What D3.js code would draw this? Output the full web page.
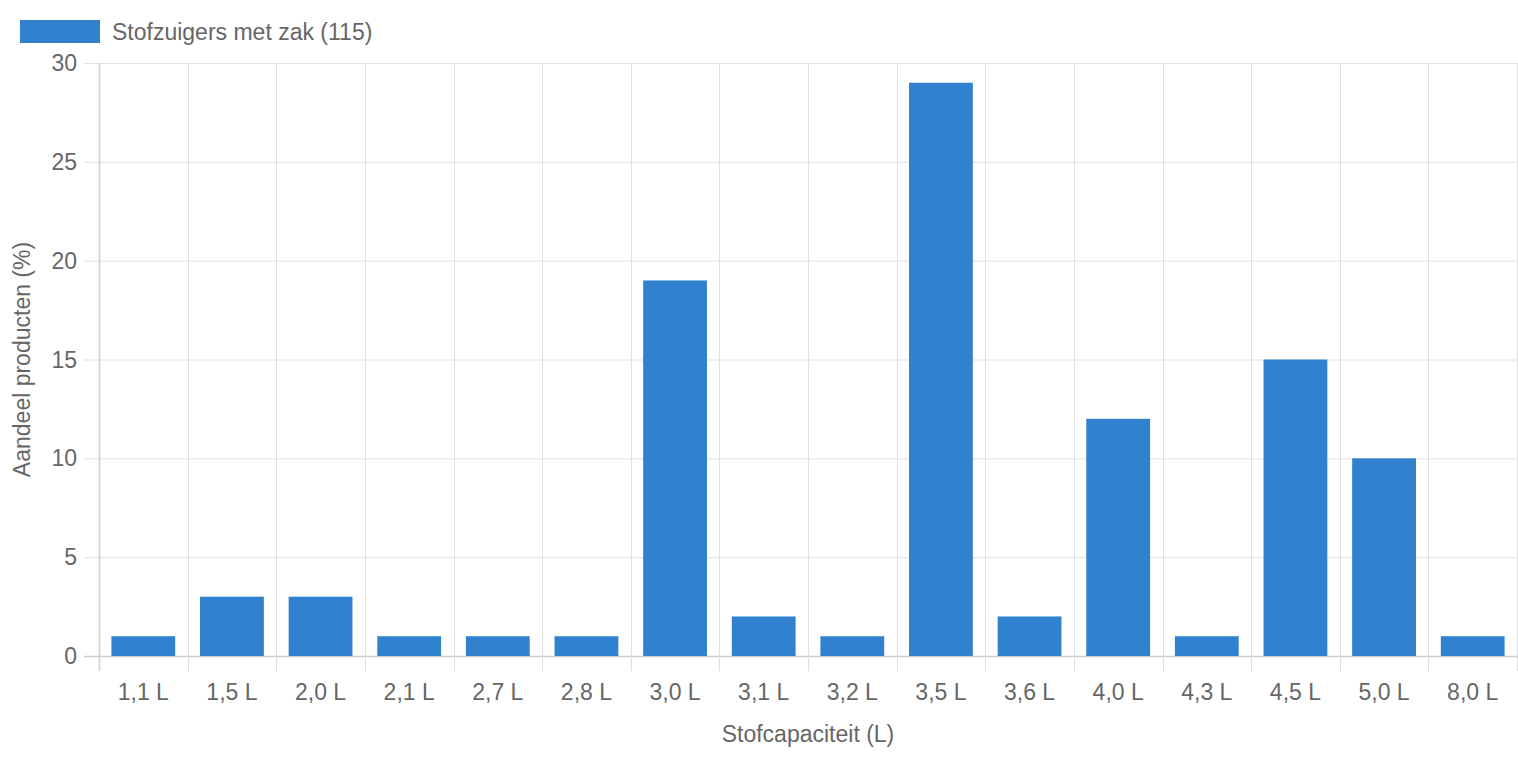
<!DOCTYPE html>
<html>
<head>
<meta charset="utf-8">
<script src="https://cdn.jsdelivr.net/npm/d3@7"></script>
<style>
  body { margin: 0; background: #fff; }
  text { font-family: "Helvetica Neue", Helvetica, Arial, "Liberation Sans", sans-serif; fill: #666; }
</style>
</head>
<body>
<div id="chart"></div>
<script>
var categories = ["1,1 L", "1,5 L", "2,0 L", "2,1 L", "2,7 L", "2,8 L", "3,0 L", "3,1 L", "3,2 L", "3,5 L", "3,6 L", "4,0 L", "4,3 L", "4,5 L", "5,0 L", "8,0 L"];
var values = [1, 3, 3, 1, 1, 1, 19, 2, 1, 29, 2, 12, 1, 15, 10, 1];
var yTicks = [0, 5, 10, 15, 20, 25, 30];
var seriesName = "Stofzuigers met zak (115)";

var W = 1518, H = 758;
var margin = { top: 63, right: 1, bottom: 102, left: 99 },
    width = W - margin.left - margin.right,
    height = H - margin.top - margin.bottom;
var barColor = "#3182ce";
var gridColor = "#e0e0e0";
var fs = "23px";

var svg = d3.select("#chart").append("svg")
    .attr("width", W).attr("height", H);

// legend
svg.append("rect").attr("x", 20).attr("y", 20).attr("width", 80).attr("height", 23)
    .attr("fill", barColor);
svg.append("text").attr("x", 112).attr("y", 40).attr("font-size", fs)
    .text(seriesName);

var g = svg.append("g").attr("transform", "translate(" + margin.left + "," + margin.top + ")");

var x = d3.scaleBand().domain(categories).range([0, width]);
var y = d3.scaleLinear().domain([0, 30]).range([height, 0]);

// horizontal grid + y ticks
g.selectAll(".hgrid").data(yTicks).enter().append("line")
    .attr("x1", -15).attr("x2", width)
    .attr("y1", function (d) { return y(d) + 0.5; })
    .attr("y2", function (d) { return y(d) + 0.5; })
    .attr("stroke", function (d) { return d === 0 ? "#cfcfcf" : gridColor; })
    .attr("stroke-width", d => d === 0 ? 1.5 : 1);

g.selectAll(".ylab").data(yTicks).enter().append("text")
    .attr("x", -22).attr("y", function (d) { return y(d); })
    .attr("dy", "0.35em").attr("text-anchor", "end").attr("font-size", fs)
    .text(function (d) { return d; });

// vertical grid lines (category boundaries)
var bounds = categories.map(function (c) { return x(c); }).concat([width]);
g.selectAll(".vgrid").data(bounds).enter().append("line")
    .attr("x1", function (d) { return Math.round(d) + 0.5; })
    .attr("x2", function (d) { return Math.round(d) + 0.5; })
    .attr("y1", 0).attr("y2", height + 15)
    .attr("stroke", function (d, i) { return i === 0 ? "#cfcfcf" : gridColor; })
    .attr("stroke-width", (d, i) => i === 0 ? 1.5 : 1);

// bars
var bw = x.bandwidth() * 0.72;
g.selectAll(".bar").data(values).enter().append("rect")
    .attr("x", function (d, i) { return x(categories[i]) + (x.bandwidth() - bw) / 2; })
    .attr("y", function (d) { return y(d); })
    .attr("width", bw)
    .attr("height", function (d) { return height - y(d); })
    .attr("fill", barColor);

// x labels
g.selectAll(".xlab").data(categories).enter().append("text")
    .attr("x", function (d) { return x(d) + x.bandwidth() / 2; })
    .attr("y", height + 44)
    .attr("text-anchor", "middle").attr("font-size", fs)
    .text(function (d) { return d; });

// axis titles
g.append("text").attr("x", width / 2).attr("y", height + 86)
    .attr("text-anchor", "middle").attr("font-size", fs)
    .text("Stofcapaciteit (L)");

svg.append("text")
    .attr("transform", "translate(30," + (margin.top + height / 2) + ") rotate(-90)")
    .attr("text-anchor", "middle").attr("font-size", fs)
    .text("Aandeel producten (%)");
</script>
</body>
</html>
